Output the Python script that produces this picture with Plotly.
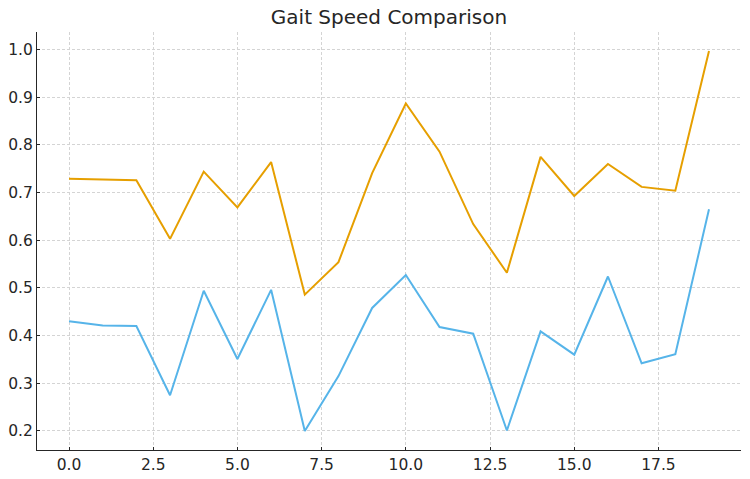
import plotly.graph_objects as go

# sample index
trial = list(range(20))

# gait speed per trial (two groups)
speed_orange = [0.729, 0.728, 0.726, 0.603, 0.744, 0.669, 0.764, 0.486, 0.554, 0.741,
                0.887, 0.786, 0.634, 0.532, 0.775, 0.693, 0.760, 0.712, 0.704, 0.997]
speed_blue = [0.430, 0.421, 0.420, 0.275, 0.494, 0.351, 0.496, 0.200, 0.315, 0.458,
              0.527, 0.418, 0.404, 0.201, 0.409, 0.360, 0.524, 0.342, 0.361, 0.665]

x_ticks = [0, 2.5, 5, 7.5, 10, 12.5, 15, 17.5]
x_labels = ["0.0", "2.5", "5.0", "7.5", "10.0", "12.5", "15.0", "17.5"]
y_ticks = [0.2, 0.3, 0.4, 0.5, 0.6, 0.7, 0.8, 0.9, 1.0]

fig = go.Figure()
fig.add_trace(go.Scatter(x=trial, y=speed_orange, mode="lines",
                         line=dict(color="#E69F00", width=2)))
fig.add_trace(go.Scatter(x=trial, y=speed_blue, mode="lines",
                         line=dict(color="#56B4E9", width=2)))

axis_style = dict(
    showline=True, linecolor="#262626", linewidth=1.2, mirror=False,
    showgrid=True, gridcolor="#d4d4d4", griddash="3px,2px", gridwidth=1,
    ticks="inside", ticklen=3, tickcolor="#262626",
    zeroline=False, automargin=False,
    tickfont=dict(size=15.5, color="#262626"),
)

fig.update_layout(
    width=750, height=479,
    margin=dict(l=37, r=9, t=32, b=29),
    paper_bgcolor="white", plot_bgcolor="white",
    font=dict(family="DejaVu Sans", color="#262626"),
    title=dict(text="Gait Speed Comparison", x=0.5, xref="paper", xanchor="center",
               y=0.979, yanchor="top", font=dict(size=20, color="#262626")),
    showlegend=False,
    xaxis=dict(range=[-0.95, 19.95], tickvals=x_ticks, ticktext=x_labels, **axis_style),
    yaxis=dict(range=[0.160, 1.037], tickvals=y_ticks,
               ticktext=[f"{v:.1f}" for v in y_ticks], **axis_style),
)

# drop the default page margin so the figure fills the window
fig.write_html("out.html", config={"displayModeBar": False},
               post_script="document.body.style.margin='0';document.body.style.overflow='hidden';")
